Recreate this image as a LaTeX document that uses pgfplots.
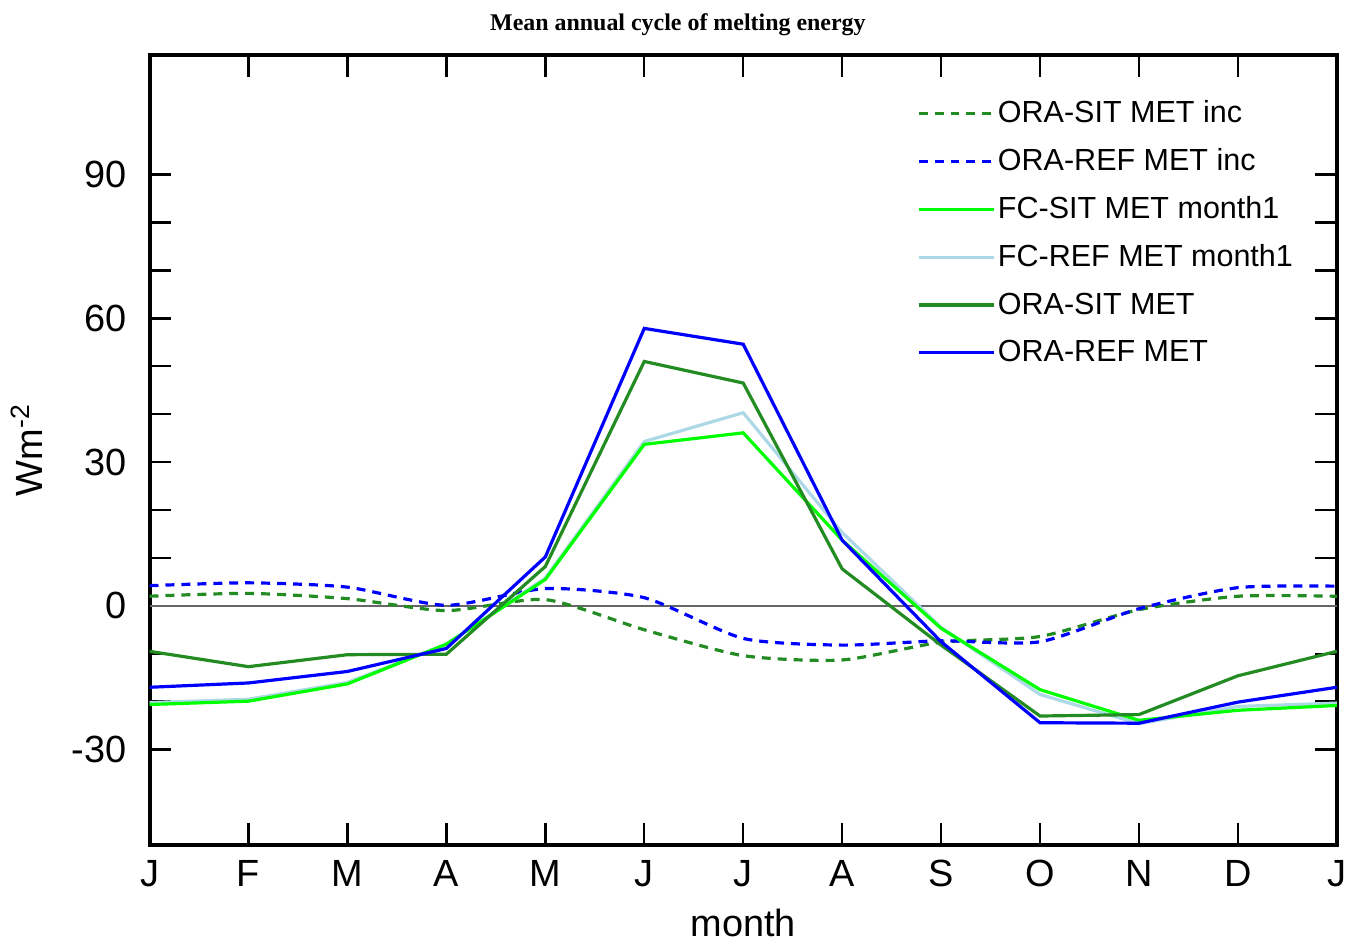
\documentclass[border=0pt]{standalone}
\usepackage{pgfplots}
\pgfplotsset{compat=1.18}
\usepackage{fontspec}
\setmainfont{Liberation Sans}
\newfontfamily\titlefont{Liberation Serif}
\usetikzlibrary{calc}
\definecolor{dkgreen}{RGB}{34,139,34}
\definecolor{lblue}{RGB}{173,216,230}
\definecolor{lime}{RGB}{0,255,0}

\begin{document}
\begin{tikzpicture}
\begin{axis}[
    name=ax,
    width=595.5pt, height=396.5pt,
    scale only axis,
    xmin=0, xmax=12, ymin=-50, ymax=115,
    xtick={0,...,12},
    xticklabels={J,F,M,A,M,J,J,A,S,O,N,D,J},
    ytick={-30,0,30,60,90},
    minor y tick num=2,
    tick align=inside,
    major tick length=11pt, minor tick length=11pt,
    tick style={line width=1.2pt, black},
    axis line style={line width=2pt},
    /pgf/number format/assume math mode=true,
    ticklabel style={font=\fontsize{19}{22}\selectfont},
    yticklabel style={xshift=-8pt},
    xticklabel style={yshift=-4pt},
    xlabel={month}, ylabel={Wm\textsuperscript{-2}},
    label style={font=\fontsize{19}{22}\selectfont},
    xlabel style={yshift=-4pt},
    ylabel style={yshift=8pt},
    title={\titlefont\bfseries Mean annual cycle of melting energy},
    title style={at={(0.445,1)}, anchor=south, font=\fontsize{12}{14}\selectfont, yshift=0pt},
    legend style={draw=none, fill=none, at={(0.641,0.95)}, anchor=north west,
        font=\fontsize{15.3}{18}\selectfont, row sep=9.5pt,
        nodes={inner sep=1pt}},
    legend cell align=left,
    legend image code/.code={\draw[#1] (0pt,0pt) -- (38pt,0pt);},
]
\addlegendimage{dkgreen, line width=1.6pt, dash pattern=on 4.5pt off 3.5pt}
\addlegendentry{ORA-SIT MET inc}
\addlegendimage{blue, line width=1.6pt, dash pattern=on 4.5pt off 3.5pt}
\addlegendentry{ORA-REF MET inc}
\addlegendimage{lime, line width=1.6pt}
\addlegendentry{FC-SIT MET month1}
\addlegendimage{lblue, line width=1.6pt}
\addlegendentry{FC-REF MET month1}
\addlegendimage{dkgreen, line width=1.6pt}
\addlegendentry{ORA-SIT MET}
\addlegendimage{blue, line width=1.6pt}
\addlegendentry{ORA-REF MET}

% zero line
\addplot[forget plot, black!60, line width=1pt] coordinates {(0,0) (12,0)};

% ORA-SIT MET inc
\addplot[forget plot, dkgreen, line width=1.6pt, dash pattern=on 4.5pt off 3.5pt, smooth, tension=0.4] coordinates {
(0,2.0) (1,2.6) (2,1.5) (3,-1.0) (4,1.3) (5,-5.0) (6,-10.4) (7,-11.3) (8,-7.6) (9,-6.4) (10,-0.8) (11,2.0) (12,2.0)};
% ORA-REF MET inc
\addplot[forget plot, blue, line width=1.6pt, dash pattern=on 4.5pt off 3.5pt, smooth, tension=0.4] coordinates {
(0,4.2) (1,4.8) (2,3.9) (3,0.1) (4,3.6) (5,1.7) (6,-6.8) (7,-8.2) (8,-7.3) (9,-7.5) (10,-0.6) (11,3.8) (12,4.1)};
% FC-REF MET month1
\addplot[forget plot, lblue, line width=1.6pt] coordinates {
(0,-20.2) (1,-19.5) (2,-16.0) (3,-8.0) (4,5.8) (5,34.3) (6,40.3) (7,15.3) (8,-4.5) (9,-18.5) (10,-24.6) (11,-21.0) (12,-20.3)};
% FC-SIT MET month1
\addplot[forget plot, lime, line width=1.6pt] coordinates {
(0,-20.6) (1,-19.9) (2,-16.3) (3,-8.0) (4,5.5) (5,33.7) (6,36.1) (7,13.7) (8,-4.7) (9,-17.5) (10,-23.9) (11,-21.8) (12,-20.8)};
% ORA-SIT MET
\addplot[forget plot, dkgreen, line width=1.6pt] coordinates {
(0,-9.5) (1,-12.7) (2,-10.2) (3,-10.1) (4,8.2) (5,51.0) (6,46.5) (7,7.7) (8,-8.2) (9,-23.0) (10,-22.7) (11,-14.6) (12,-9.5)};
% ORA-REF MET
\addplot[forget plot, blue, line width=1.6pt] coordinates {
(0,-17.0) (1,-16.1) (2,-13.7) (3,-8.9) (4,10.2) (5,57.9) (6,54.6) (7,13.7) (8,-7.5) (9,-24.4) (10,-24.5) (11,-20.1) (12,-17.0)};
\end{axis}
\path ($(ax.south west)+(-75pt,-52pt)$) rectangle ($(ax.north east)+(6pt,27.5pt)$);
\end{tikzpicture}
\end{document}
